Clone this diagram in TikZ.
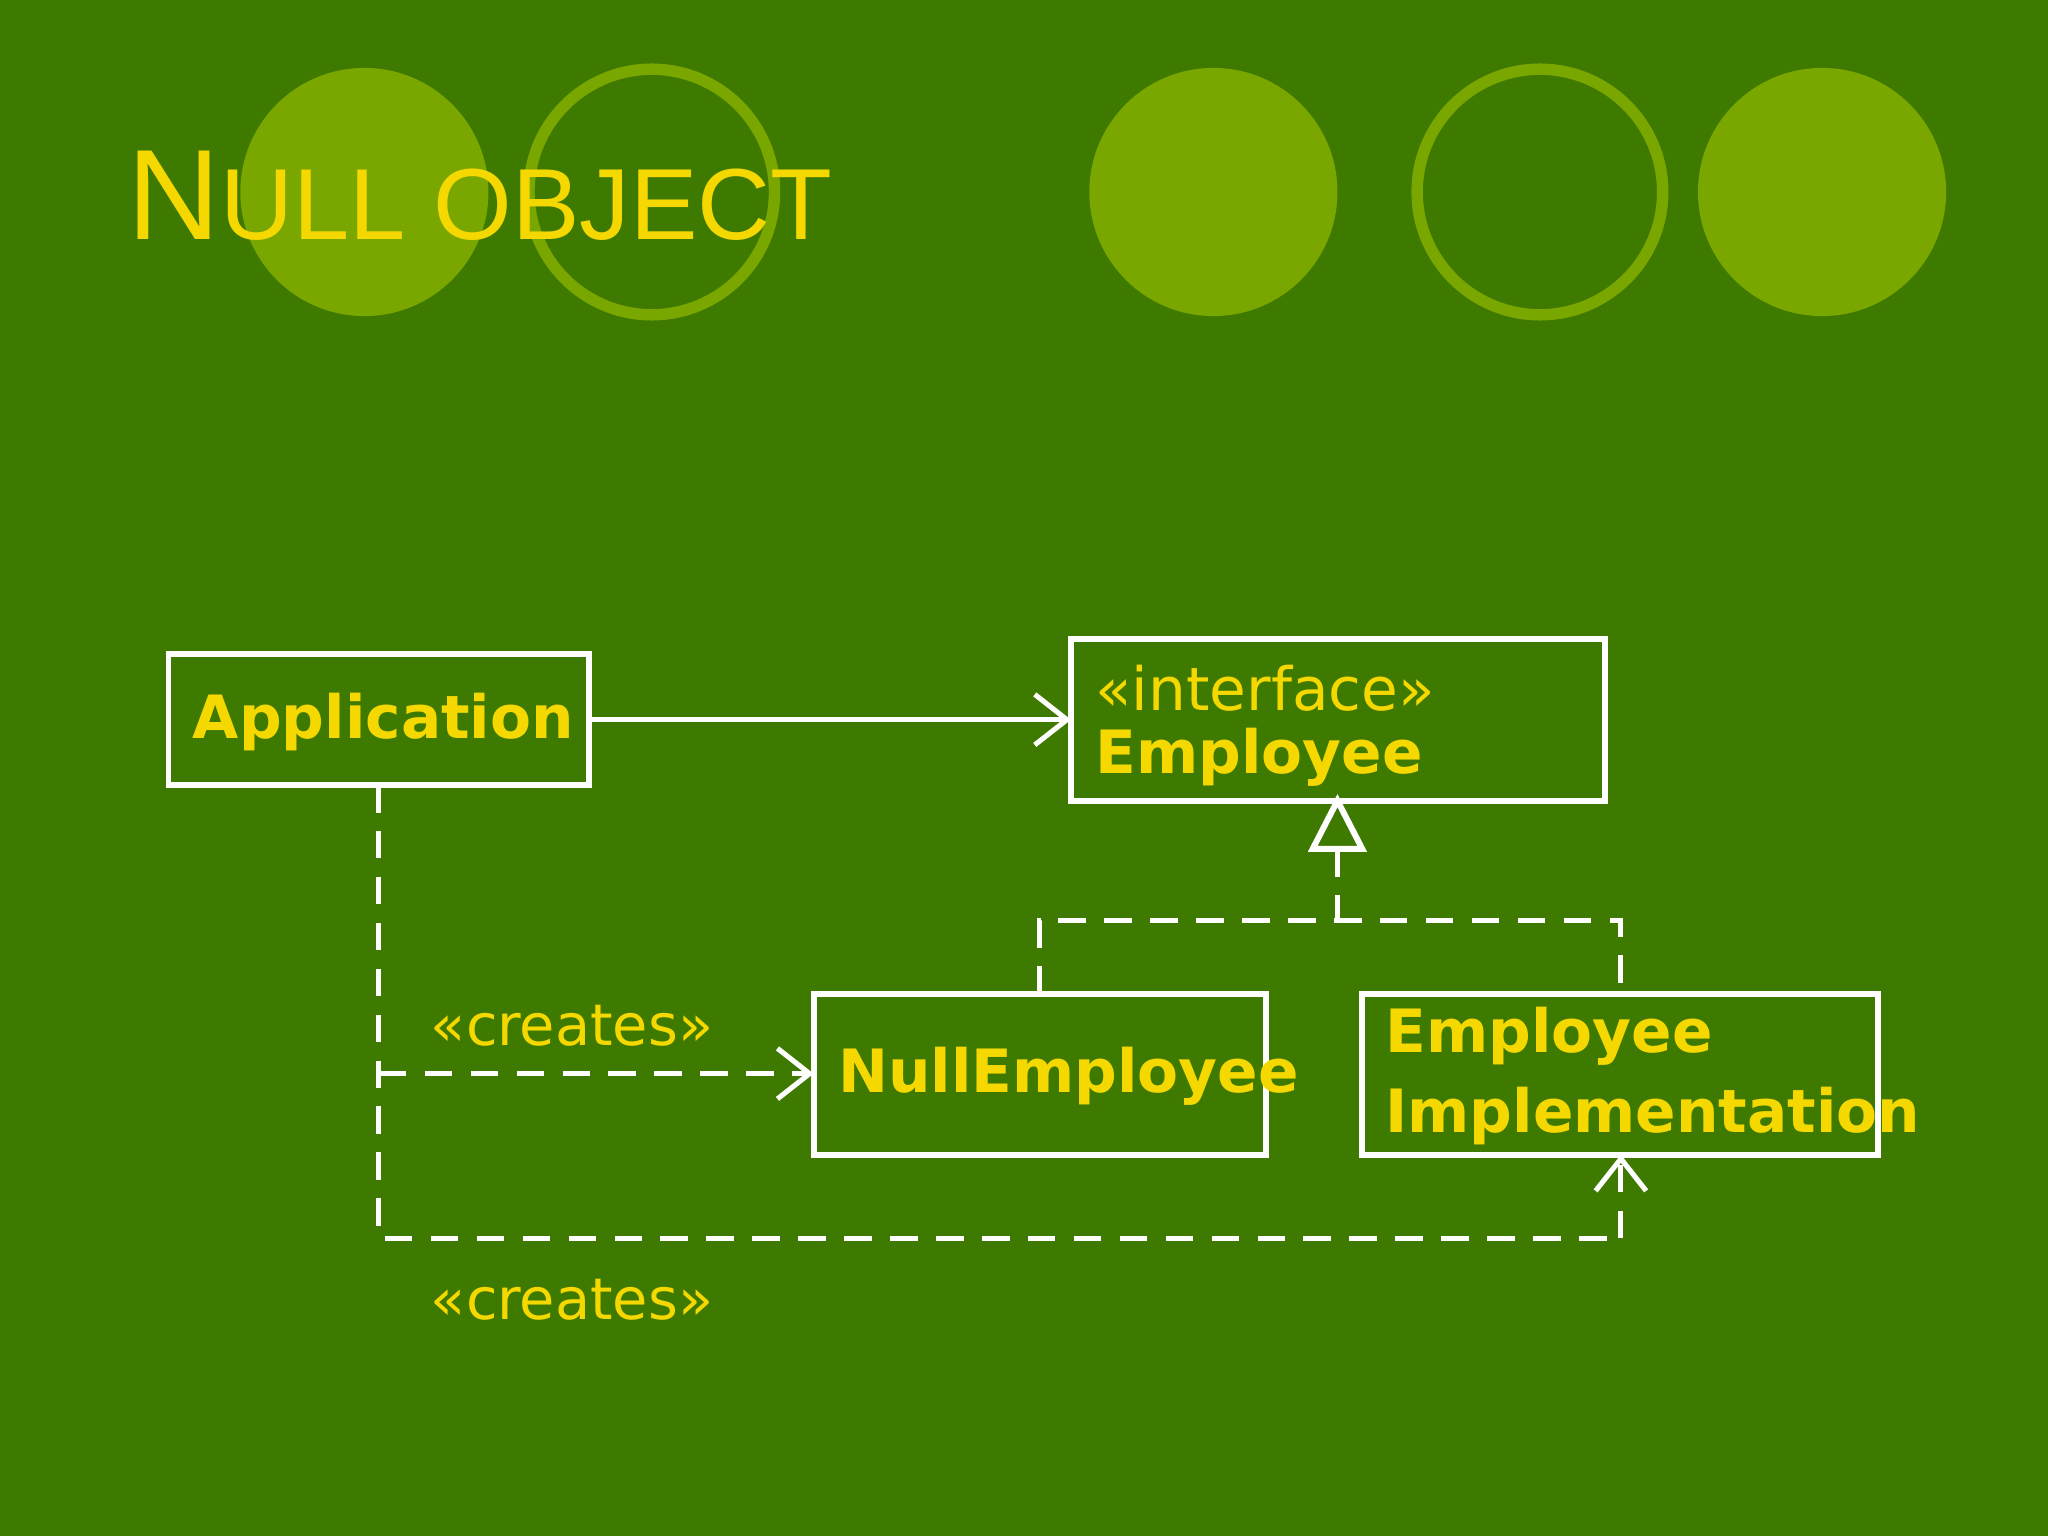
\documentclass[tikz,border=0pt]{standalone}
\usepackage{fontspec}
\setmainfont{DejaVu Sans}
\newfontfamily\titlefont{Liberation Sans}
\usetikzlibrary{arrows.meta}
\definecolor{bg}{RGB}{63,122,0}
\definecolor{circ}{RGB}{122,166,0}
\definecolor{txt}{RGB}{245,216,0}
\begin{document}
\begin{tikzpicture}[x=0.01cm,y=-0.01cm,
  box/.style={draw=white,line width=1.3pt,fill=none},
  lbl/.style={text=txt,font=\fontsize{13}{15}\selectfont\bfseries,anchor=west,inner sep=0,align=left},
  ster/.style={text=txt,font=\fontsize{12.5}{15}\selectfont,anchor=center,inner sep=0},
  dep/.style={draw=white,line width=1.1pt,dash pattern=on 6pt off 4pt},
  open/.style={-{Straight Barb[length=7pt,width=11pt]}}]
\fill[bg] (0,0) rectangle (1568,1176);
\useasboundingbox (0,0) rectangle (1568,1176);
\fill[circ] (279,147) circle (95);
\draw[circ,line width=2.5pt] (499,147) circle (94);
\fill[circ] (929,147) circle (95);
\draw[circ,line width=2.5pt] (1179,147) circle (94);
\fill[circ] (1395,147) circle (95);
\node[anchor=base west,inner sep=0,text=txt] (title) at (97,183)
  {\titlefont\fontsize{28}{30}\selectfont N\fontsize{22}{26}\selectfont ULL O\fontsize{22}{26}\selectfont BJECT};
\draw[box] (129,501) rectangle (451,601);
\coordinate (appL) at (129,551);
\node[lbl] (app) at (147,553) {Application};
\draw[box] (820,489) rectangle (1229,613);
\node[lbl,font=\fontsize{13}{15}\selectfont] (int) at (838,527) {«interface»};
\node[lbl] (emp) at (838,580) {Employee};
\draw[box] (623,761) rectangle (969,884);
\node[lbl] (ne) at (641,824) {NullEmployee};
\draw[box] (1043,761) rectangle (1438,884);
\node[lbl,font=\fontsize{13}{17.5}\selectfont\bfseries] (ei) at (1060,824) {Employee\\Implementation};
\coordinate (a1) at (451,551); \coordinate (e1) at (820,551);
\draw[white,line width=1.1pt,open] (a1) -- (e1);
\coordinate (tri) at (1024,613); \coordinate (trib) at (1024,650);
\draw[white,line width=1.3pt] (tri) -- (1043,650) -- (1005,650) -- cycle;
\coordinate (j) at (1024,705);
\draw[dep] (trib) -- (j);
\draw[dep] (796,761) -- (796,705) -- (1241,705) -- (1241,761);
\coordinate (as) at (290,601);
\coordinate (ac) at (290,948);
\coordinate (ne1) at (623,822);
\coordinate (ei1) at (1241,884);
\draw[dep] (as) -- (ac) -- (1241,948);
\draw[dep,open] (1241,948) -- (ei1);
\draw[dep,open] (290,822) -- (ne1);
\node[ster] (c1) at (438,785) {«creates»};
\node[ster] (c2) at (438,995) {«creates»};
\end{tikzpicture}
\end{document}
